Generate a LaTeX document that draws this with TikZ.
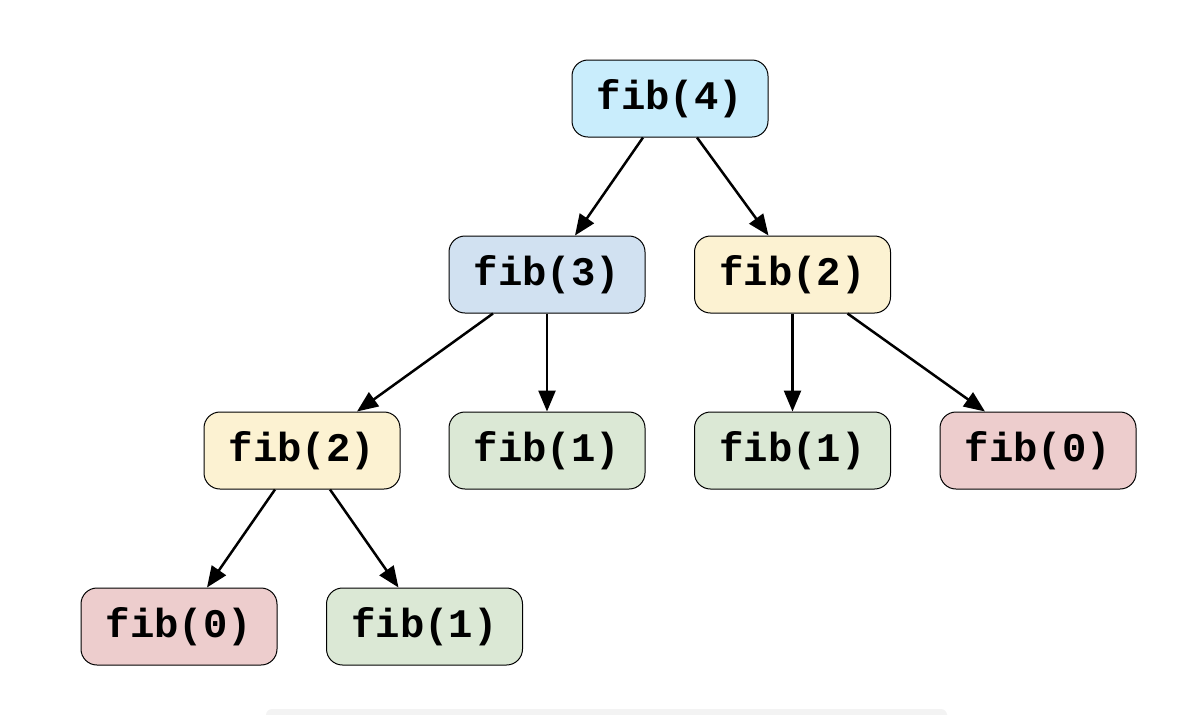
\documentclass[tikz,border=0pt]{standalone}
\usepackage{fontspec}
\setmonofont{Liberation Mono}
\usetikzlibrary{arrows.meta}
\definecolor{cFour}{HTML}{C9EDFC}
\definecolor{cThree}{HTML}{D1E1F1}
\definecolor{cTwo}{HTML}{FCF2D2}
\definecolor{cOne}{HTML}{DBE8D5}
\definecolor{cZero}{HTML}{EDCDCD}
\definecolor{barGray}{HTML}{F3F3F3}
\begin{document}
\begin{tikzpicture}[x=0.5pt,y=-0.5pt,
  fnode/.style={draw=black, line width=0.5pt, rounded corners=8pt,
    minimum width=98pt, minimum height=38.5pt, inner sep=0pt,
    font=\ttfamily\bfseries\fontsize{20.3}{24}\selectfont},
  edge/.style={line width=1.25pt, -{Triangle[length=10.5pt,width=8.5pt]}}]
\useasboundingbox (0,0) rectangle (1200,714);
\fill[barGray, rounded corners=3pt] (266,709) rectangle (947,720);
\node[fnode, fill=cFour] (n4) at (670,98.5) {\raisebox{-1.5pt}{fib(4)}};
\node[fnode, fill=cThree] (n3) at (547,274.5) {\raisebox{-1.5pt}{fib(3)}};
\node[fnode, fill=cTwo] (n2r) at (792.5,274.5) {\raisebox{-1.5pt}{fib(2)}};
\node[fnode, fill=cTwo] (n2l) at (302,450.5) {\raisebox{-1.5pt}{fib(2)}};
\node[fnode, fill=cOne] (n1a) at (547,450.5) {\raisebox{-1.5pt}{fib(1)}};
\node[fnode, fill=cOne] (n1b) at (792.5,450.5) {\raisebox{-1.5pt}{fib(1)}};
\node[fnode, fill=cZero] (n0a) at (1038,450.5) {\raisebox{-1.5pt}{fib(0)}};
\node[fnode, fill=cZero] (n0b) at (179,626.5) {\raisebox{-1.5pt}{fib(0)}};
\node[fnode, fill=cOne] (n1c) at (424.5,626.5) {\raisebox{-1.5pt}{fib(1)}};
\draw[edge] ([xshift=-13.5pt]n4.south) -- ([xshift=14pt]n3.north);
\draw[edge] ([xshift=13.5pt]n4.south) -- ([xshift=-12pt]n2r.north);
\draw[edge] ([xshift=-27pt]n3.south) -- ([xshift=27.5pt]n2l.north);
\draw[edge] (n3.south) -- (n1a.north);
\draw[edge] (n2r.south) -- (n1b.north);
\draw[edge] ([xshift=27.5pt]n2r.south) -- ([xshift=-26.5pt]n0a.north);
\draw[edge] ([xshift=-13.5pt]n2l.south) -- ([xshift=14pt]n0b.north);
\draw[edge] ([xshift=14pt]n2l.south) -- ([xshift=-13pt]n1c.north);
\end{tikzpicture}
\end{document}
